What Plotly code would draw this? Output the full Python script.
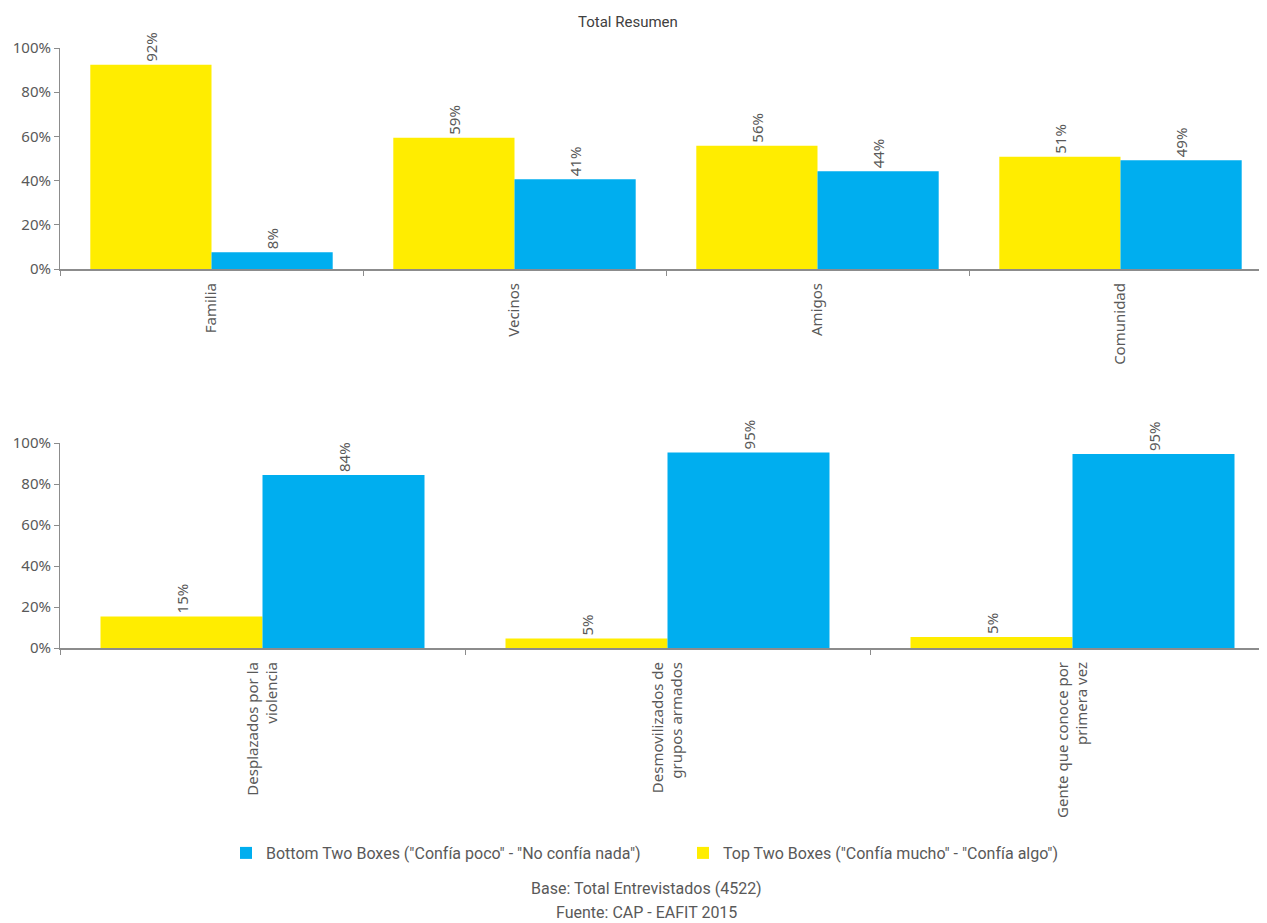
import plotly.graph_objects as go

# ---- data ----
top_categories = ["Familia", "Vecinos", "Amigos", "Comunidad"]
top_top2 = [92.4, 59.4, 55.8, 50.8]        # Top Two Boxes
top_bottom2 = [7.6, 40.6, 44.2, 49.2]      # Bottom Two Boxes

bot_categories = ["Desplazados por la<br>violencia",
                  "Desmovilizados de<br>grupos armados",
                  "Gente que conoce por<br>primera vez"]
bot_top2 = [15.4, 4.6, 5.4]
bot_bottom2 = [84.4, 95.4, 94.6]

name_top2 = 'Top Two Boxes ("Confía mucho" - "Confía algo")'
name_bottom2 = 'Bottom Two Boxes ("Confía poco" - "No confía nada")'
title_text = "Total Resumen"
footer_lines = ["Base: Total Entrevistados (4522)", "Fuente: CAP - EAFIT 2015"]

YELLOW = "#FFED00"
BLUE = "#00AEEF"
GRAY = "#595959"
AXIS = "#8C8C8C"
FONT = "Noto Sans"
LFONT = "Roboto"

# page is 1267x923; the html body has an 8px margin, so the figure is 8px smaller
OFF = 8
W, H = 1267 - OFF, 923 - OFF


def px_x(p):
    return (p - OFF) / W


def px_y(p):
    return 1 - (p - OFF) / H


def fmt(vals):
    return [f"{round(v):.0f}%" for v in vals]


fig = go.Figure()

common = dict(textposition="outside", textangle=-90, cliponaxis=False,
              textfont=dict(family=FONT, size=15, color=GRAY),
              marker_line_width=0)

fig.add_trace(go.Bar(x=top_categories, y=top_top2, name=name_top2, text=fmt(top_top2),
                     marker_color=YELLOW, legendgroup="t", xaxis="x", yaxis="y", **common))
fig.add_trace(go.Bar(x=top_categories, y=top_bottom2, name=name_bottom2, text=fmt(top_bottom2),
                     marker_color=BLUE, legendgroup="b", xaxis="x", yaxis="y", **common))
fig.add_trace(go.Bar(x=bot_categories, y=bot_top2, name=name_top2, text=fmt(bot_top2),
                     marker_color=YELLOW, legendgroup="t", showlegend=False,
                     xaxis="x2", yaxis="y2", **common))
fig.add_trace(go.Bar(x=bot_categories, y=bot_bottom2, name=name_bottom2, text=fmt(bot_bottom2),
                     marker_color=BLUE, legendgroup="b", showlegend=False,
                     xaxis="x2", yaxis="y2", **common))

xdom = [px_x(60), 1.0]
plot_w = 1267 - 60
xcommon = dict(type="category", showline=True, linecolor=AXIS, linewidth=2,
               ticks="outside", tickson="boundaries", tickcolor=AXIS, ticklen=5,
               tickangle=-90, tickfont=dict(family=FONT, size=15, color=GRAY),
               ticklabelstandoff=6,
               showgrid=False, zeroline=False, fixedrange=True, automargin=False)
ycommon = dict(range=[0, 100], dtick=20, ticksuffix="%", showline=True, linecolor=AXIS,
               linewidth=1, ticks="outside", tickcolor=AXIS, ticklen=5,
               tickfont=dict(family=FONT, size=15, color=GRAY),
               showgrid=False, zeroline=False, fixedrange=True, automargin=False)

fig.update_layout(
    width=W, height=H, autosize=False,
    margin=dict(l=0, r=0, t=0, b=0, pad=0),
    paper_bgcolor="white", plot_bgcolor="white",
    barmode="group", bargap=0.2, bargroupgap=0,
    font=dict(family=FONT, color=GRAY),
    xaxis=dict(domain=xdom, anchor="y", range=[-0.5, -0.5 + plot_w / 303], **xcommon),
    yaxis=dict(domain=[px_y(269), px_y(48)], anchor="x", **ycommon),
    xaxis2=dict(domain=xdom, anchor="y2", range=[-0.5, -0.5 + plot_w / 405], **xcommon),
    yaxis2=dict(domain=[px_y(648), px_y(443)], anchor="x2", **ycommon),
    legend=dict(orientation="h", x=px_x(226), xanchor="left", y=px_y(853), yanchor="middle",
                traceorder="reversed", entrywidth=412, entrywidthmode="pixels",
                font=dict(family=LFONT, size=16, color=GRAY)),
    showlegend=True,
)

fig.add_annotation(text=title_text, xref="paper", yref="paper", x=px_x(628), y=px_y(22),
                   xanchor="center", yanchor="middle",
                   showarrow=False, font=dict(family=LFONT, size=15, color="#404040"))
for i, line in enumerate(footer_lines):
    fig.add_annotation(text=line, xref="paper", yref="paper", x=px_x(646), y=px_y(888 + 24 * i),
                       xanchor="center", yanchor="middle",
                       showarrow=False, font=dict(family=LFONT, size=16, color=GRAY))

fig.write_html("out.html")
